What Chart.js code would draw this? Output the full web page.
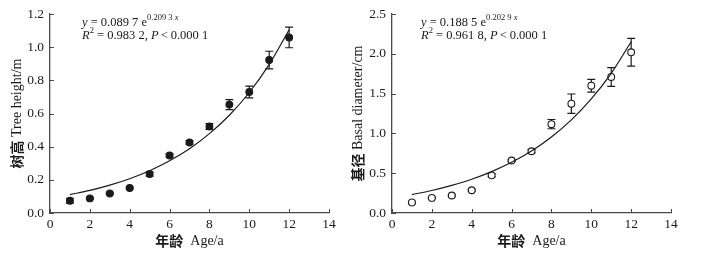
<!DOCTYPE html>
<html>
<head>
<meta charset="utf-8">
<script src="https://cdn.jsdelivr.net/npm/chart.js@4/dist/chart.umd.min.js"></script>
<style>
  body { margin: 0; background: #fff; }
  .row { display: flex; width: 712px; height: 255px; }
  canvas { display: block; }
</style>
</head>
<body>
<div class="row">
  <canvas id="height" width="345" height="255"></canvas>
  <canvas id="diameter" width="367" height="255"></canvas>
</div>
<script>
const ages = [1, 2, 3, 4, 5, 6, 7, 8, 9, 10, 11, 12];

const heightMean = [0.074, 0.088, 0.118, 0.151, 0.235, 0.347, 0.425, 0.522, 0.654, 0.730, 0.923, 1.059];
const heightErr = [0.015, 0.006, 0.006, 0.006, 0.012, 0.010, 0.010, 0.018, 0.030, 0.036, 0.053, 0.062];
const heightFit = [0.111, 0.136, 0.168, 0.207, 0.255, 0.315, 0.388, 0.479, 0.590, 0.727, 0.897, 1.106];

const diamMean = [0.133, 0.190, 0.220, 0.286, 0.473, 0.660, 0.776, 1.117, 1.374, 1.600, 1.710, 2.020];
const diamErr = [0.015, 0.010, 0.010, 0.010, 0.020, 0.012, 0.020, 0.058, 0.122, 0.080, 0.118, 0.174];
const diamFit = [0.231, 0.283, 0.347, 0.424, 0.520, 0.637, 0.780, 0.956, 1.171, 1.434, 1.756, 2.152];

const AXIS = "#4a4a4a";
const INK = "#1a1a1a";
const SERIF = "'Liberation Serif', 'Noto Sans CJK SC', serif";
const CJK = "'Noto Sans CJK SC', sans-serif";

const inwardTicks = {
  id: "inwardTicks",
  afterDraw(chart) {
    const { ctx, chartArea, scales } = chart;
    ctx.save();
    ctx.strokeStyle = AXIS;
    ctx.lineWidth = 1;
    ctx.beginPath();
    scales.x.ticks.forEach(t => {
      const px = Math.round(scales.x.getPixelForValue(t.value)) + 0.5;
      ctx.moveTo(px, chartArea.bottom);
      ctx.lineTo(px, chartArea.bottom - 4);
    });
    scales.y.ticks.forEach(t => {
      const py = Math.round(scales.y.getPixelForValue(t.value)) + 0.5;
      ctx.moveTo(chartArea.left, py);
      ctx.lineTo(chartArea.left + 4, py);
    });
    ctx.stroke();
    ctx.restore();
  }
};

const errorBars = {
  id: "errorBars",
  beforeDatasetsDraw(chart) {
    const { ctx, scales } = chart;
    chart.data.datasets.forEach(ds => {
      if (!ds.errors) return;
      ctx.save();
      ctx.strokeStyle = INK;
      ctx.lineWidth = 1.2;
      ctx.beginPath();
      ds.data.forEach((p, j) => {
        const px = scales.x.getPixelForValue(p.x);
        const top = scales.y.getPixelForValue(p.y + ds.errors[j]);
        const bot = scales.y.getPixelForValue(p.y - ds.errors[j]);
        ctx.moveTo(px, top);
        ctx.lineTo(px, bot);
        ctx.moveTo(px - 4, top);
        ctx.lineTo(px + 4, top);
        ctx.moveTo(px - 4, bot);
        ctx.lineTo(px + 4, bot);
      });
      ctx.stroke();
      ctx.restore();
    });
  }
};

// mixed-font text helper: returns the new x after drawing
function put(ctx, text, x, y, font) {
  ctx.font = font;
  ctx.fillText(text, x, y);
  return x + ctx.measureText(text).width;
}

const equation = {
  id: "equation",
  afterDraw(chart, args, opts) {
    const { ctx } = chart;
    const big = "12.5px " + SERIF;
    const bigI = "italic 12.5px " + SERIF;
    const small = "8.5px " + SERIF;
    const smallI = "italic 8.5px " + SERIF;
    ctx.save();
    ctx.fillStyle = INK;
    ctx.textBaseline = "alphabetic";
    let x = opts.x;
    let y = opts.y;
    x = put(ctx, "y", x, y, bigI);
    x = put(ctx, " = " + opts.coef + " e", x, y, big);
    x = put(ctx, opts.rate + " ", x, y - 6, small);
    put(ctx, "x", x, y - 6, smallI);
    x = opts.x;
    y += 13;
    x = put(ctx, "R", x, y, bigI);
    x = put(ctx, "2", x, y - 6, small);
    x = put(ctx, " = " + opts.r2 + ", ", x, y, big);
    x = put(ctx, "P", x, y, bigI);
    put(ctx, " < 0.000 1".replace(" < ", "\u2009<\u2009"), x, y, big);
    ctx.restore();
  }
};

const axisTitles = {
  id: "axisTitles",
  afterDraw(chart, args, opts) {
    const { ctx, chartArea } = chart;
    const cjk = "bold 14px " + CJK;
    const lat = "14px " + SERIF;
    ctx.save();
    ctx.fillStyle = INK;
    ctx.textBaseline = "middle";
    // x title, centred under the plot
    ctx.font = cjk;
    const w1 = ctx.measureText(opts.xCn).width;
    ctx.font = lat;
    const w2 = ctx.measureText(opts.xEn).width;
    let x = (chartArea.left + chartArea.right) / 2 - (w1 + w2) / 2;
    x = put(ctx, opts.xCn, x, opts.xTitleY, cjk);
    put(ctx, opts.xEn, x, opts.xTitleY, lat);
    // y title, rotated, centred on the plot
    ctx.translate(opts.yTitleX, (chartArea.top + chartArea.bottom) / 2);
    ctx.rotate(-Math.PI / 2);
    ctx.font = cjk;
    const v1 = ctx.measureText(opts.yCn).width;
    ctx.font = lat;
    const v2 = ctx.measureText(opts.yEn).width;
    let t = -(v1 + v2) / 2;
    t = put(ctx, opts.yCn, t, 0, cjk);
    put(ctx, opts.yEn, t, 0, lat);
    ctx.restore();
  }
};

function makeChart(id, cfg) {
  new Chart(document.getElementById(id), {
    data: {
      datasets: [
        {
          type: "line",
          data: ages.map((a, i) => ({ x: a, y: cfg.fit[i] })),
          borderColor: INK,
          borderWidth: 1.2,
          pointRadius: 0,
          tension: 0.4,
          cubicInterpolationMode: "monotone",
          order: 0
        },
        {
          type: "scatter",
          data: ages.map((a, i) => ({ x: a, y: cfg.mean[i] })),
          errors: cfg.err,
          pointRadius: 3.4,
          pointBackgroundColor: cfg.fill,
          pointBorderColor: INK,
          pointBorderWidth: 1.1,
          order: 1
        }
      ]
    },
    options: {
      responsive: false,
      animation: false,
      layout: { padding: { left: 0, right: cfg.padRight, top: 12, bottom: 0 } },
      scales: {
        x: {
          type: "linear",
          min: 0,
          max: 14,
          afterFit(s) { s.height = 42; },
          ticks: { stepSize: 2, color: INK, padding: 3, font: { family: SERIF, size: 13.5 } },
          grid: { drawOnChartArea: false, drawTicks: false },
          border: { color: AXIS, width: 1.3 }
        },
        y: {
          min: 0,
          max: cfg.yMax,
          afterFit(s) { s.width = cfg.yWidth; },
          ticks: { stepSize: cfg.yStep, color: INK, padding: 6, font: { family: SERIF, size: 13.5 }, callback: v => v.toFixed(1) },
          grid: { drawOnChartArea: false, drawTicks: false },
          border: { color: AXIS, width: 1.3 }
        }
      },
      plugins: {
        legend: { display: false },
        tooltip: { enabled: false },
        equation: cfg.eq,
        axisTitles: {
          xCn: "年龄", xEn: "  Age/a", xTitleY: 241,
          yCn: cfg.yCn, yEn: cfg.yEn, yTitleX: cfg.yTitleX
        }
      }
    },
    plugins: [errorBars, inwardTicks, equation, axisTitles]
  });
}

makeChart("height", {
  mean: heightMean, err: heightErr, fit: heightFit, fill: INK,
  yMax: 1.2, yStep: 0.2, yWidth: 50, padRight: 16,
  yCn: "树高", yEn: " Tree height/m", yTitleX: 17,
  eq: { x: 82, y: 26, coef: "0.089 7", rate: "0.209 3", r2: "0.983 2" }
});

makeChart("diameter", {
  mean: diamMean, err: diamErr, fit: diamFit, fill: "#ffffff",
  yMax: 2.5, yStep: 0.5, yWidth: 47, padRight: 41,
  yCn: "基径", yEn: " Basal diameter/cm", yTitleX: 13,
  eq: { x: 76, y: 26, coef: "0.188 5", rate: "0.202 9", r2: "0.961 8" }
});
</script>
</body>
</html>
